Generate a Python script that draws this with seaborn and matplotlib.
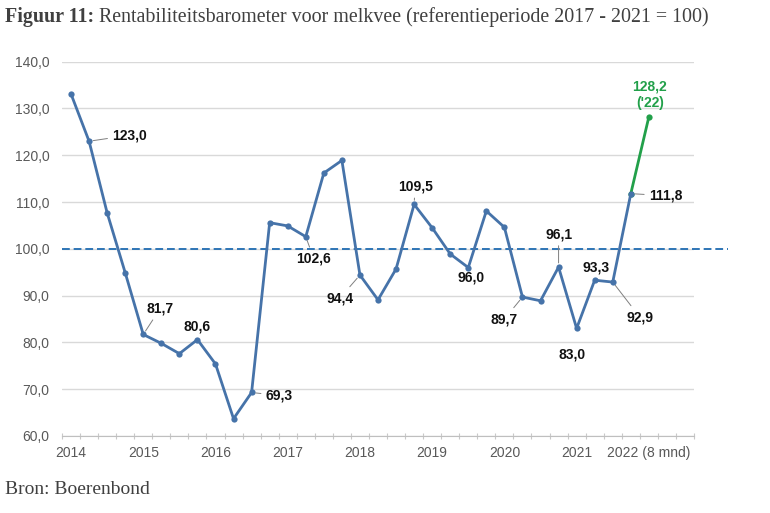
import matplotlib
matplotlib.use("Agg")
import matplotlib.pyplot as plt
import seaborn as sns
import pandas as pd
import numpy as np
from matplotlib.ticker import FuncFormatter

# ---------------- data ----------------
values = [133.1, 123.0, 107.7, 94.9, 81.7, 79.8, 77.6, 80.6, 75.4, 63.7, 69.3,
          105.6, 104.9, 102.6, 116.2, 118.9, 94.4, 89.1, 95.7, 109.5, 104.5,
          98.9, 96.0, 108.1, 104.6, 89.7, 88.9, 96.1, 83.0, 93.3, 92.9, 111.8]
value_2022 = 128.2
year_labels = ["2014", "2015", "2016", "2017", "2018", "2019", "2020", "2021",
               "2022 (8 mnd)"]
reference_value = 100
yticks = [60, 70, 80, 90, 100, 110, 120, 130, 140]

BLUE = "#4673a9"
GREEN = "#22a04a"
DASH = "#2e75b6"
GRID = "#d9d9d9"
TXT = "#595959"

def nl(v):
    return f"{v:.1f}".replace(".", ",")

sns.set_style("white")
plt.rcParams['font.family'] = ['Liberation Sans', 'DejaVu Sans']

fig = plt.figure(figsize=(7.7, 5.13), dpi=100)
W, H = 770, 513
ax = fig.add_axes([62 / W, 1 - 436 / H, (694 - 62) / W, (436 - 61.7) / H])

df = pd.DataFrame({"idx": np.arange(len(values)), "value": values})
df_g = pd.DataFrame({"idx": [len(values) - 1, len(values)],
                     "value": [values[-1], value_2022]})

sns.lineplot(data=df_g, x="idx", y="value", ax=ax, color=GREEN, lw=2.0,
             marker="o", markersize=4.5, markeredgewidth=0, zorder=3)
sns.lineplot(data=df, x="idx", y="value", ax=ax, color=BLUE, lw=2.0,
             marker="o", markersize=4.5, markeredgewidth=0, zorder=4)

ax.axhline(reference_value, xmin=0, xmax=(728 - 62) / (694 - 62), color=DASH,
           lw=1.4, ls=(0, (4, 2)), clip_on=False, zorder=2)

n_cat = 35
ax.set_xlim(-0.5, n_cat - 0.5)
ax.set_ylim(yticks[0], yticks[-1])
ax.set_yticks(yticks)
ax.yaxis.set_major_formatter(FuncFormatter(lambda v, p: nl(v)))
ax.yaxis.grid(True, color=GRID, lw=1)
ax.xaxis.grid(False)
ax.set_xticks(np.arange(len(year_labels)) * 4)
ax.set_xticklabels(year_labels)
ax.set_xticks(np.arange(-0.5, n_cat, 1), minor=True)
ax.tick_params(axis="x", which="major", length=0, pad=7, labelsize=10,
               labelcolor=TXT)
ax.tick_params(axis="x", which="minor", length=4, direction="inout",
               color="#c8c8c8", width=0.8, bottom=True)
ax.tick_params(axis="y", length=0, pad=9, labelsize=10, labelcolor=TXT)
for s in ["left", "top", "right"]:
    ax.spines[s].set_visible(False)
ax.spines["bottom"].set_color("#bfbfbf")
ax.spines["bottom"].set_linewidth(0.8)
ax.set_xlabel("")
ax.set_ylabel("")

# data labels: (index, dx px, dy px (up +), ha, leader)
labels = [
    (1, 23, 6, "left", True),
    (4, 17, 26, "center", True),
    (7, 0, 13, "center", False),
    (10, 14, -3, "left", True),
    (13, 8, -22, "center", True),
    (16, -20, -23, "center", True),
    (19, 1, 18, "center", True),
    (22, 3, -10, "center", False),
    (25, -18, -22, "center", True),
    (27, 0, 33, "center", True),
    (28, -5, -26, "center", False),
    (29, 1, 13, "center", False),
    (30, 27, -35, "center", True),
    (31, 18, -2, "left", True),
]
pt = 0.72
for i, dx, dy, ha, leader in labels:
    kw = {}
    if leader:
        kw["arrowprops"] = dict(arrowstyle="-", color="#7f7f7f", lw=0.7,
                                shrinkA=1, shrinkB=3)
    ax.annotate(nl(values[i]), xy=(i, values[i]), xytext=(dx * pt, dy * pt),
                textcoords="offset points", ha=ha, va="center",
                fontsize=10, fontweight="bold", color="#111111", zorder=6, **kw)

ax.annotate(nl(value_2022) + "\n('22)", xy=(len(values), value_2022),
            xytext=(1 * pt, 22 * pt), textcoords="offset points",
            ha="center", va="center", fontsize=10, fontweight="bold",
            color=GREEN, linespacing=1.2, zorder=6)

# title
serif = ["Liberation Serif", "DejaVu Serif"]
t1 = fig.text(5 / W, 1 - 17 / H, "Figuur 11:", family=serif, fontweight="bold",
              fontsize=14.4, color="#404040", va="center", ha="left")
r = fig.canvas.get_renderer()
bb = t1.get_window_extent(renderer=r)
fig.text((bb.x1 + 5) / W, 1 - 17 / H,
         "Rentabiliteitsbarometer voor melkvee (referentieperiode 2017 - 2021 = 100)",
         family=serif, fontsize=14.4, color="#404040", va="center", ha="left")
fig.text(5 / W, 1 - 490 / H, "Bron: Boerenbond", family=serif, fontsize=14,
         color="#404040", va="center", ha="left")

fig.savefig("out.png", dpi=100)
